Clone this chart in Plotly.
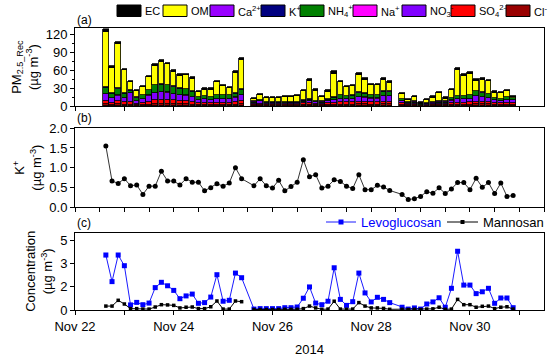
import plotly.graph_objects as go
import pandas as pd

# ---------------- data ----------------
seg_starts = ["2014-11-22 15:00", "2014-11-25 15:00", "2014-11-28 15:00"]
seg_counts = [23, 23, 19]

species = ["Cl<sup>-</sup>", "SO<sub>4</sub><sup>2-</sup>", "NO<sub>3</sub><sup>-</sup>", "Na<sup>+</sup>",
           "NH<sub>4</sub><sup>+</sup>", "K<sup>+</sup>", "Ca<sup>2+</sup>", "OM", "EC"]

cl = [3, 1.5, 3, 2, 1.5, 1, 1.2, 2, 3, 3, 3, 2.5, 2.5, 2.5, 2, 1.2, 1.5, 1.2, 1.5, 1.5, 1.5, 2, 2.5,
      1.2, 1.2, 1, 1, 1, 1, 1, 1, 1.5, 1.5, 1.2, 1, 1.5, 1.8, 2, 2, 2, 2.2, 2.2, 2, 2, 2.5, 2.5,
      1.5, 0.8, 1, 0.4, 0.6, 0.8, 1, 1, 1.5, 1.8, 1.8, 2, 2.5, 2.3, 2.2, 1.5, 1.3, 1.5, 1.4]
so4 = [5, 3.5, 5, 3.5, 4, 2.5, 3, 5, 6.5, 7, 7, 6.5, 5.5, 5, 4.5, 3, 3, 2.8, 3.2, 3.5, 3.5, 4, 5,
       1.8, 2, 1.8, 1.6, 1.5, 1.6, 1.6, 1.5, 2.2, 2.5, 2, 1.8, 2.5, 3, 3.5, 3.5, 3.5, 4, 4, 3.5, 3.5, 4.5, 4.5,
       2.5, 1.5, 1.8, 0.7, 1.1, 1.4, 1.7, 1.7, 3, 3.5, 3.5, 3.8, 4.5, 4.2, 4, 2.8, 2.5, 3, 2.8]
no3 = [11.5, 8, 9, 7, 16, 5, 7, 10, 12, 12.5, 12, 11, 10, 9.5, 8, 5, 6, 5, 6.5, 6.5, 6.5, 7.5, 10,
       1.6, 4, 1.6, 1.3, 1.3, 1.4, 1.3, 1.3, 3, 3.5, 2.2, 1.8, 3.5, 4.5, 6, 5.5, 6, 8, 7.5, 6.5, 6.5, 9, 9.5,
       3.5, 2, 2.3, 0.6, 1.1, 1.6, 2.1, 2.1, 4.2, 5.5, 5.5, 6, 9.5, 8, 7, 4.5, 4, 5, 4.8]
na = [0.4, 0.3, 0.3, 0.3, 0.4, 0.2, 0.3, 0.3, 0.4, 0.4, 0.4, 0.3, 0.3, 0.3, 0.3, 0.2, 0.2, 0.2, 0.2, 0.2, 0.2, 0.3, 0.3,
      0.2, 0.2, 0.2, 0.2, 0.2, 0.2, 0.2, 0.2, 0.2, 0.2, 0.2, 0.2, 0.2, 0.2, 0.2, 0.2, 0.2, 0.3, 0.3, 0.2, 0.2, 0.3, 0.3,
      0.2, 0.2, 0.2, 0.1, 0.1, 0.2, 0.2, 0.2, 0.2, 0.2, 0.2, 0.2, 0.3, 0.3, 0.3, 0.2, 0.2, 0.2, 0.2]
nh4 = [10, 6.5, 10.5, 7.5, 3, 4.3, 5.6, 8.8, 12, 12, 11.5, 11, 10, 10, 8.5, 5, 5.6, 5, 6, 5.8, 5.8, 6.5, 9,
       1.4, 1.8, 1.3, 1.2, 1.1, 1.2, 1.2, 1.2, 1.8, 2.5, 1.8, 1.5, 2.5, 4, 5.5, 4.8, 5.3, 6.5, 6.3, 5.3, 5.3, 7, 6.5,
       2.7, 1.2, 1.4, 0.4, 0.7, 1.0, 1.5, 1.5, 3.3, 4.8, 4.8, 5.3, 7.2, 6.5, 5.9, 3.5, 3.1, 4.2, 3.4]
k = [1.55, 0.66, 0.60, 0.72, 0.54, 0.56, 0.32, 0.53, 0.53, 0.91, 0.66, 0.66, 0.56, 0.72, 0.63, 0.63, 0.41, 0.49, 0.59, 0.53, 0.61, 1.00, 0.72,
     0.54, 0.72, 0.54, 0.48, 0.68, 0.41, 0.52, 0.63, 1.20, 0.77, 0.82, 0.48, 0.53, 0.69, 0.65, 0.53, 0.47, 0.82, 0.44, 0.44, 0.55, 0.51, 0.42,
     0.32, 0.19, 0.21, 0.27, 0.39, 0.35, 0.49, 0.34, 0.46, 0.62, 0.62, 0.44, 0.73, 0.50, 0.62, 0.34, 0.61, 0.27, 0.29]
ca = [0.5, 0.5, 0.6, 0.4, 1.5, 0.4, 0.5, 0.4, 0.5, 0.4, 0.4, 0.3, 0.3, 0.3, 0.3, 0.3, 0.3, 0.3, 0.3, 0.3, 0.3, 0.3, 0.4,
      0.3, 0.3, 0.3, 0.3, 0.3, 0.3, 0.3, 0.3, 0.3, 0.3, 0.3, 0.3, 0.3, 0.3, 0.3, 0.3, 0.3, 0.3, 0.3, 0.3, 0.3, 0.3, 0.3,
      0.3, 0.2, 0.2, 0.1, 0.1, 0.2, 0.2, 0.2, 0.3, 0.3, 0.3, 0.3, 0.3, 0.3, 0.3, 0.2, 0.2, 0.2, 0.2]
om = [91, 42, 74, 37.7, 12, 10, 13, 20.5, 32, 37.7, 34, 24, 21.3, 22.3, 20.5, 8, 10, 12, 21, 14, 10.6, 33, 48.6,
      3.7, 6.9, 6.8, 6.4, 6.4, 8.6, 9.2, 9.7, 14, 29.4, 16.2, 7.7, 12.6, 39.3, 21.2, 14.6, 15.2, 28.9, 21.6, 15.6, 15.6, 19.1, 14.6,
      9, 3.5, 7.5, 0.6, 5.7, 8.1, 13.8, 4.9, 12.8, 43.2, 33.1, 35.1, 15.9, 20.6, 20.3, 8.9, 9.1, 9.7, 2.2]
ec = [6, 3.5, 4, 3, 2.5, 2, 2, 2.5, 3, 3, 3, 3, 2.5, 2.5, 2.5, 2, 2, 2, 2.5, 2, 2, 3, 4,
      1.5, 2, 1.5, 1.5, 1.5, 1.5, 1.5, 1.5, 2, 3.5, 2.5, 2, 2, 3.5, 2.5, 2, 2, 3, 3, 2.5, 2.5, 3, 2.5,
      2, 1.5, 1.5, 2.5, 2, 2, 2.5, 2, 2.5, 4, 3, 3, 3, 3, 3, 2, 2, 2, 1.5]

levo = [4.76, 2.46, 4.76, 3.84, 0.44, 0.66, 0.46, 0.60, 1.94, 2.40, 2.10, 1.70, 0.98, 1.22, 1.38, 0.58, 0.64, 1.12, 3.06, 0.76, 0.84, 3.20, 2.80,
        0.08, 0.12, 0.12, 0.12, 0.12, 0.20, 0.20, 0.26, 1.02, 2.00, 0.60, 0.46, 0.76, 3.66, 0.92, 0.40, 0.72, 3.20, 1.48, 0.70, 1.10, 0.92, 0.64,
        0.24, 0.08, 0.18, 0.08, 0.52, 0.70, 1.06, 0.24, 1.88, 5.10, 2.16, 2.16, 1.42, 1.58, 1.88, 0.58, 1.04, 1.04, 0.20]
manno = [0.34, 0.34, 0.84, 0.52, 0.12, 0.12, 0.08, 0.08, 0.26, 0.46, 0.44, 0.40, 0.18, 0.24, 0.26, 0.12, 0.12, 0.28, 0.78, 0.08, 0.08, 0.78, 0.72,
         0.04, 0.04, 0.04, 0.04, 0.04, 0.06, 0.06, 0.06, 0.12, 0.34, 0.18, 0.06, 0.08, 0.76, 0.08, 0.06, 0.08, 0.64, 0.34, 0.18, 0.18, 0.14, 0.06,
         0.06, 0.04, 0.06, 0.04, 0.08, 0.10, 0.24, 0.06, 0.08, 0.92, 0.46, 0.46, 0.24, 0.32, 0.34, 0.12, 0.24, 0.28, 0.08]

conc_tickvals = [0, 2, 4, 6]
conc_ticktext = ["0", "2", "3", "5"]

# ---------------- build ----------------
segs = [pd.date_range(s, periods=n, freq="3h") for s, n in zip(seg_starts, seg_counts)]
times = [t for s in segs for t in s]

colors = ["#990000", "#FF0000", "#8000FF", "#FF00FF", "#008000", "#000080", "#9900FF", "#FFFF00", "#000000"]
stack = [cl, so4, no3, na, nh4, k, ca, om, ec]

FONT = "Liberation Sans, Arial, sans-serif"
W, H = 550, 360
XL, XR = 75, 544

fig = go.Figure()
for name, vals, col in zip(species, stack, colors):
    fig.add_trace(go.Bar(x=times, y=vals, name=name, marker=dict(color=col, line=dict(color="black", width=0.8)),
                         width=9.6e6, xaxis="x", yaxis="y", showlegend=False))

fig.add_trace(go.Scatter(x=times, y=k, mode="lines+markers", line=dict(color="#333333", width=1),
                         marker=dict(color="black", size=5, symbol="circle"), xaxis="x2", yaxis="y2", showlegend=False))

fig.add_trace(go.Scatter(x=times, y=levo, mode="lines+markers", line=dict(color="#1a1aff", width=1),
                         marker=dict(color="#0000FF", size=5, symbol="square"), xaxis="x3", yaxis="y3",
                         name="Levoglucosan", showlegend=False))
m_x = list(segs[0]) + [None] + list(segs[1]) + list(segs[2])
m_y = manno[:23] + [None] + manno[23:]
fig.add_trace(go.Scatter(x=m_x, y=m_y, mode="lines+markers", line=dict(color="black", width=1),
                         marker=dict(color="black", size=3.5, symbol="square"), xaxis="x3", yaxis="y3",
                         name="Mannosan", showlegend=False))

def py(p):
    return 1 - p / H

def px(p):
    return p / W

xr = ["2014-11-22 00:00", "2014-12-01 12:00"]
common_x = dict(type="date", range=xr, domain=[px(XL), px(XR)], showline=True, mirror=True, linecolor="black",
                linewidth=1, showgrid=False, zeroline=False, ticks="outside", ticklen=4, tickcolor="black",
                tick0="2014-11-22")
common_y = dict(showline=True, mirror=True, linecolor="black", linewidth=1, showgrid=False, zeroline=False,
                ticks="outside", ticklen=4, tickcolor="black", tickfont=dict(size=13, color="black"),
                title_font=dict(size=13, color="black"))

fig.update_layout(
    width=W, height=H, margin=dict(l=0, r=0, t=0, b=0, autoexpand=False), paper_bgcolor="white", plot_bgcolor="white",
    font=dict(family=FONT, color="black", size=12), barmode="stack", bargap=0,
    xaxis=dict(common_x, anchor="y", showticklabels=False, dtick=86400000),
    xaxis2=dict(common_x, anchor="y2", showticklabels=False, dtick=43200000),
    xaxis3=dict(common_x, anchor="y3", dtick=172800000, tickformat="%b %d", tickfont=dict(size=13),
                minor=dict(dtick=86400000, ticks="outside", ticklen=4, tickcolor="black"),
                title=dict(text="2014", font=dict(size=13), standoff=12)),
    yaxis=dict(common_y, anchor="x", domain=[py(106), py(28.3)], range=[0, 130], dtick=30,
               minor=dict(dtick=15, ticks="outside", ticklen=2, tickcolor="black"),
               title=dict(text="PM<sub>2.5_Rec</sub><br>(µg m<sup>-3</sup>)", standoff=4)),
    yaxis2=dict(common_y, anchor="x2", domain=[py(207), py(128.3)], range=[0, 2.0], dtick=0.5, tickformat=".1f",
                title=dict(text="K<sup>+</sup><br>(µg m<sup>-3</sup>)", standoff=4)),
    yaxis3=dict(common_y, anchor="x3", domain=[py(310), py(232.7)], range=[0, 6.7], tickvals=conc_tickvals,
                ticktext=conc_ticktext, title=dict(text="Concentration<br>(µg m<sup>-3</sup>)", standoff=4)),
)

# panel labels
for lab, yy in [("(a)", 20), ("(b)", 118), ("(c)", 223)]:
    fig.add_annotation(x=px(75), y=py(yy), xref="paper", yref="paper", text=lab, showarrow=False,
                       xanchor="left", yanchor="middle", font=dict(size=12))

# legend for panel (a)
leg_names = ["EC", "OM", "Ca<sup>2+</sup>", "K<sup>+</sup>", "NH<sub>4</sub><sup>+</sup>", "Na<sup>+</sup>",
             "NO<sub>3</sub><sup>-</sup>", "SO<sub>4</sub><sup>2-</sup>", "Cl<sup>-</sup>"]
leg_cols = ["#000000", "#FFFF00", "#9900FF", "#000080", "#008000", "#FF00FF", "#8000FF", "#FF0000", "#990000"]
sw_x = [117, 163, 210, 261, 300, 353, 402, 451, 506]
for nm, col, x0 in zip(leg_names, leg_cols, sw_x):
    fig.add_shape(type="rect", xref="paper", yref="paper", x0=px(x0), x1=px(x0 + 24), y0=py(16.5), y1=py(5),
                  fillcolor=col, line=dict(color="black", width=1))
    fig.add_annotation(x=px(x0 + 26), y=py(11), xref="paper", yref="paper", text=nm, showarrow=False,
                       xanchor="left", yanchor="middle", font=dict(size=11))

# legend for panel (c)
ly = 222
fig.add_shape(type="line", xref="paper", yref="paper", x0=px(326), x1=px(356), y0=py(ly), y1=py(ly),
              line=dict(color="#1a1aff", width=1))
fig.add_shape(type="rect", xref="paper", yref="paper", x0=px(338.5), x1=px(343.5), y0=py(ly + 2.5), y1=py(ly - 2.5),
              fillcolor="#0000FF", line=dict(width=0))
fig.add_annotation(x=px(359), y=py(ly), xref="paper", yref="paper", text="Levoglucosan", showarrow=False,
                   xanchor="left", yanchor="middle", font=dict(size=13, color="#0000FF"))
fig.add_shape(type="line", xref="paper", yref="paper", x0=px(447), x1=px(478), y0=py(ly), y1=py(ly),
              line=dict(color="black", width=1))
fig.add_shape(type="rect", xref="paper", yref="paper", x0=px(460.5), x1=px(464.5), y0=py(ly + 2), y1=py(ly - 2),
              fillcolor="black", line=dict(width=0))
fig.add_annotation(x=px(481), y=py(ly), xref="paper", yref="paper", text="Mannosan", showarrow=False,
                   xanchor="left", yanchor="middle", font=dict(size=13))

fig.write_html("out.html", config={"displayModeBar": False},
               post_script="document.body.style.margin='0';document.body.style.overflow='hidden';")
